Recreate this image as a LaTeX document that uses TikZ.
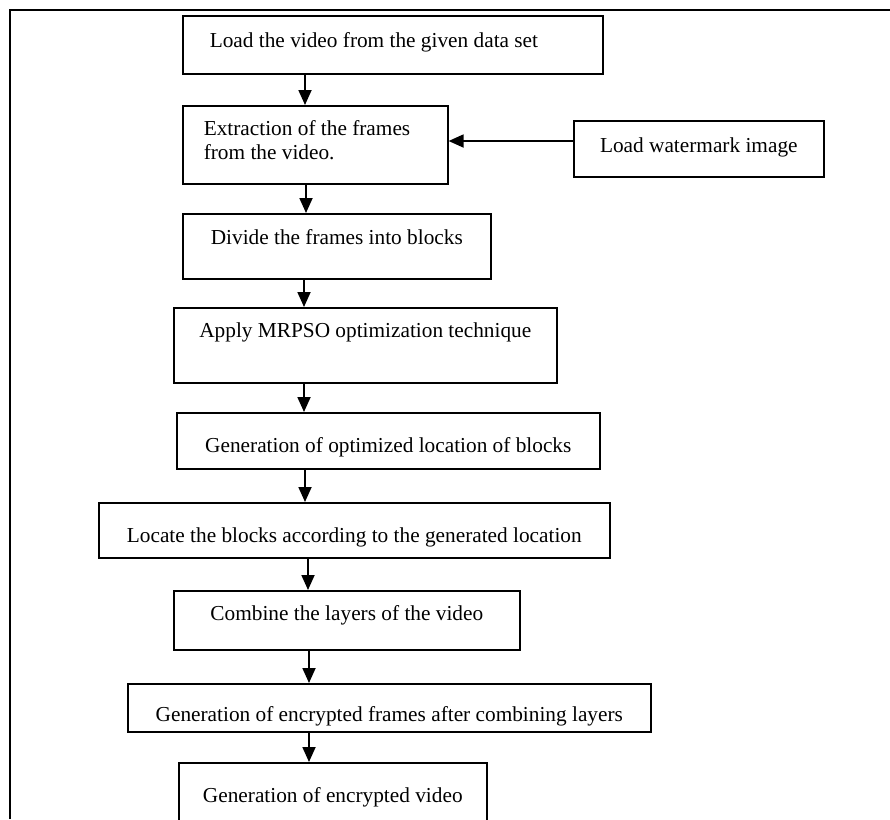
\documentclass[tikz,border=0pt]{standalone}
\usepackage{fontspec}
\setmainfont{Liberation Serif}
\usetikzlibrary{arrows.meta,positioning}

\begin{document}
\begin{tikzpicture}[x=1pt, y=-1pt,
	stage/.style={draw, line width=1.6pt, inner sep=0pt, anchor=north west, font=\fontsize{21.3}{24}\selectfont},
	flow/.style={line width=1.8pt, -{Triangle[length=15pt,width=13pt]}}]
				\useasboundingbox (0,0) rectangle (890,819);
				% outer frame, open on the right and at the bottom
				\draw[line width=2.6pt] (10,819) -- (10,10) -- (890,10);
				\node[stage, text width=366pt, inner xsep=27pt, text height=32pt, text depth=26pt, align=flush left] (load) at (182,15) {Load the video from the given data set};
				\node[stage, text width=223pt, inner xsep=21pt, text height=30pt, text depth=48pt, align=flush left] (extract) at (182,105) {Extraction of the frames\\from the video.};
				\node[stage, minimum width=250pt, text height=32pt, text depth=24pt] (wmark) at (573,120) {Load watermark image};
				\node[stage, minimum width=308pt, text height=31pt, text depth=34pt] (divide) at (182,213) {Divide the frames into blocks};
				\node[stage, minimum width=383pt, text height=30pt, text depth=45pt] (mrpso) at (173,307) {Apply MRPSO optimization technique};
				\node[stage, minimum width=423pt, text height=40pt, text depth=16pt] (optloc) at (176,412) {Generation of optimized location of blocks};
				\node[stage, minimum width=511pt, text height=40pt, text depth=15pt] (locate) at (98,502) {Locate the blocks according to the generated location};
				\node[stage, minimum width=346pt, text height=30pt, text depth=29pt] (combine) at (173,590) {Combine the layers of the video};
				\node[stage, minimum width=523pt, text height=38pt, text depth=10pt] (encframes) at (127,683) {Generation of encrypted frames after combining layers};
				\node[stage, minimum width=308pt, text height=40pt, text depth=25pt] (encvideo) at (178,762) {Generation of encrypted video};
				% arrows
				\draw[flow] (load.south -| 305,0) -- (extract.north -| 305,0);
				\draw[flow] (wmark.west |- 0,141) -- (extract.east |- 0,141);
				\draw[flow] (extract.south -| 306,0) -- (divide.north -| 306,0);
				\draw[flow] (divide.south -| 304,0) -- (mrpso.north -| 304,0);
				\draw[flow] (mrpso.south -| 304,0) -- (optloc.north -| 304,0);
				\draw[flow] (optloc.south -| 305,0) -- (locate.north -| 305,0);
				\draw[flow] (locate.south -| 308,0) -- (combine.north -| 308,0);
				\draw[flow] (combine.south -| 309,0) -- (encframes.north -| 309,0);
				\draw[flow] (encframes.south -| 309,0) -- (encvideo.north -| 309,0);
			\end{tikzpicture}
\end{document}
